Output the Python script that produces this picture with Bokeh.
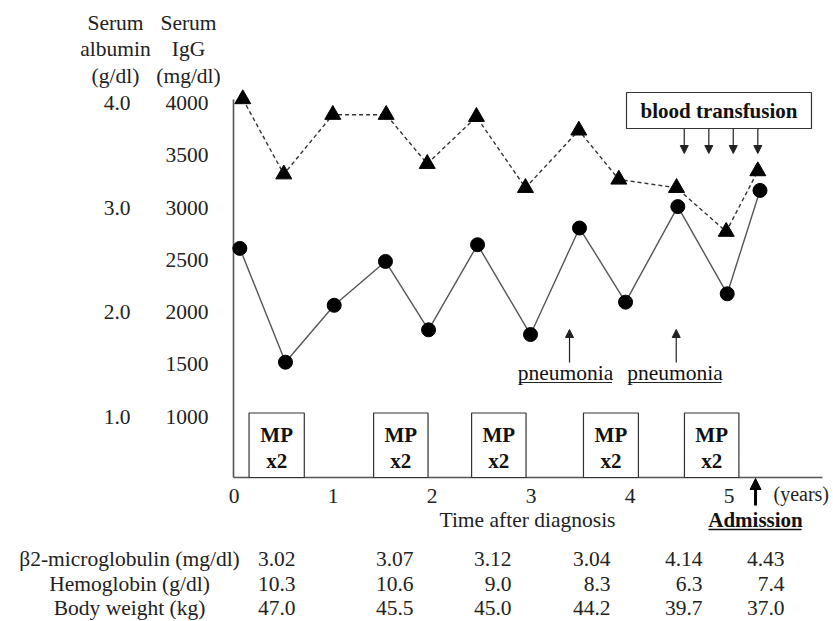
from bokeh.plotting import figure
from bokeh.models import Range1d, Arrow, NormalHead, ColumnDataSource
from bokeh.core.properties import value
from bokeh.embed import file_html
from bokeh.resources import INLINE

FONT = "Liberation Serif"
FS = "21.5px"
FSB = "21px"
TXT = "#222222"

# ---------------- data ----------------
t_igg = [0.059, 0.52, 1.012, 1.53, 1.965, 2.46, 2.995, 3.49, 3.955, 4.483, 4.982, 5.313]
igg = [2610, 1520, 2065, 2485, 1830, 2645, 1785, 2805, 2095, 3010, 2175, 3165]

t_alb = [0.089, 0.503, 0.998, 1.537, 1.952, 2.449, 2.944, 3.483, 3.887, 4.47, 4.972, 5.291]
alb = [4.04, 3.32, 3.89, 3.89, 3.42, 3.87, 3.19, 3.74, 3.27, 3.19, 2.77, 3.35]

x_ticks = [0, 1, 2, 3, 4, 5]
igg_ticks = [1000, 1500, 2000, 2500, 3000, 3500, 4000]
alb_ticks = [1.0, 2.0, 3.0, 4.0]

mp_start = [0.152, 1.41, 2.40, 3.53, 4.55]
mp_end = [0.71, 1.96, 2.95, 4.085, 5.10]
mp_label_top = "MP"
mp_label_bottom = "x2"

transfusion_t = [4.548, 4.796, 5.043, 5.291]
pneumonia_t = [3.389, 4.467]
admission_t = 5.268

table_rows = ["\u03b22-microglobulin (mg/dl)", "Hemoglobin (g/dl)", "Body weight (kg)"]
b2m = ["3.02", "3.07", "3.12", "3.04", "4.14", "4.43"]
hb = ["10.3", "10.6", "9.0", "8.3", "6.3", "7.4"]
bw = ["47.0", "45.5", "45.0", "44.2", "39.7", "37.0"]

# ---------------- geometry helpers (page px -> data) ----------------
X0PX, XPX = 233.5, 99.0
Y0PX, Y0V, YV = 477.0, 416.0, 9.576
def dx(px):
    return (px - X0PX) / XPX
def dy(py):
    return Y0V + (Y0PX - py) * YV

W, H = 833, 621
p = figure(width=W, height=H, output_backend="svg", toolbar_location=None,
           x_range=Range1d(dx(0), dx(W)), y_range=Range1d(dy(H), dy(0)),
           x_axis_location=None, y_axis_location=None, min_border=0,
           background_fill_color="white", border_fill_color="white")
p.outline_line_color = None
p.grid.visible = False
p.extra_y_ranges = {"alb": Range1d(dy(H) / 1000.0, dy(0) / 1000.0)}

AX_COLOR = "#555555"
# axis lines
x_axis_end = dx(822)
y_axis_top = dy(99)
p.segment(x0=[dx(233), dx(233)], y0=[Y0V, Y0V], x1=[x_axis_end, dx(233)], y1=[Y0V, y_axis_top],
          line_color=AX_COLOR, line_width=1.6)

# tick labels
p.text(x=x_ticks, y=[dy(495)] * len(x_ticks), text=[str(t) for t in x_ticks],
       text_font=value(FONT), text_font_size=value(FS), text_align="center",
       text_baseline="middle", text_color=TXT)
p.text(x=[dx(208)] * len(igg_ticks), y=igg_ticks, text=[str(t) for t in igg_ticks],
       text_font=value(FONT), text_font_size=value(FS), text_align="right",
       text_baseline="middle", text_color=TXT)
p.text(x=[dx(130)] * len(alb_ticks), y=alb_ticks, y_range_name="alb",
       text=["%.1f" % t for t in alb_ticks],
       text_font=value(FONT), text_font_size=value(FS), text_align="right",
       text_baseline="middle", text_color=TXT)

# ---------------- MP boxes ----------------
mp_mid = [(a + b) / 2 for a, b in zip(mp_start, mp_end)]
p.quad(left=mp_start, right=mp_end, bottom=Y0V, top=dy(412.5),
       fill_color="white", line_color="#333333", line_width=1.2)
p.text(x=mp_mid, y=[dy(434)] * len(mp_mid), text=[mp_label_top] * len(mp_mid),
       text_font=value(FONT), text_font_size=value(FSB), text_font_style="bold",
       text_align="center", text_baseline="middle", text_color="#111111")
p.text(x=mp_mid, y=[dy(460)] * len(mp_mid), text=[mp_label_bottom] * len(mp_mid),
       text_font=value(FONT), text_font_size=value(FSB), text_font_style="bold",
       text_align="center", text_baseline="middle", text_color="#111111")

# ---------------- series ----------------
p.line(t_alb, alb, y_range_name="alb", line_color="#333333", line_width=1.4, line_dash="4 3")
p.scatter(t_alb, alb, y_range_name="alb", marker="triangle", size=16,
          fill_color="black", line_color="black")
p.line(t_igg, igg, line_color="#555555", line_width=1.4)
p.scatter(t_igg, igg, marker="circle", size=14, fill_color="black", line_color="black")

# ---------------- blood transfusion ----------------
bt_l, bt_r = dx(626), dx(811)
p.quad(left=[bt_l], right=[bt_r], bottom=[dy(128)], top=[dy(92)],
       fill_color="white", line_color="#333333", line_width=1.2)
p.text(x=[(bt_l + bt_r) / 2], y=[dy(110)], text=["blood transfusion"],
       text_font=value(FONT), text_font_size=value(FSB), text_font_style="bold",
       text_align="center", text_baseline="middle", text_color="#111111")
tsrc = ColumnDataSource(dict(x=transfusion_t, y0=[dy(128)] * 4, y1=[dy(153)] * 4))
p.add_layout(Arrow(end=NormalHead(size=8, fill_color="#222222", line_color="#222222"),
                   x_start="x", y_start="y0", x_end="x", y_end="y1", source=tsrc,
                   line_color="#222222", line_width=1.2))

# ---------------- pneumonia ----------------
psrc = ColumnDataSource(dict(x=pneumonia_t, y0=[dy(362)] * 2, y1=[dy(329)] * 2))
p.add_layout(Arrow(end=NormalHead(size=8, fill_color="#222222", line_color="#222222"),
                   x_start="x", y_start="y0", x_end="x", y_end="y1", source=psrc,
                   line_color="#222222", line_width=1.2))
pn_x = [dx(565), dx(674.5)]
p.text(x=pn_x, y=[dy(372)] * 2, text=["pneumonia"] * 2,
       text_font=value(FONT), text_font_size=value(FS),
       text_align="center", text_baseline="middle", text_color="#111111")
half = 46.5 / XPX
p.segment(x0=[x - half for x in pn_x], x1=[x + half for x in pn_x],
          y0=[dy(382)] * 2, y1=[dy(382)] * 2, line_color="#222222", line_width=1.1)

# ---------------- admission ----------------
p.add_layout(Arrow(end=NormalHead(size=11, fill_color="black", line_color="black"),
                   x_start=admission_t, y_start=dy(505), x_end=admission_t, y_end=dy(478),
                   line_color="black", line_width=3))
p.text(x=[admission_t], y=[dy(519)], text=["Admission"], text_font=value(FONT),
       text_font_size=value(FSB), text_font_style="bold", text_align="center",
       text_baseline="middle", text_color="#111111")
p.segment(x0=[dx(708)], y0=[dy(529)], x1=[dx(801)], y1=[dy(529)],
          line_color="#111111", line_width=1.3)
p.text(x=[dx(773)], y=[dy(493)], text=["(years)"], text_font=value(FONT),
       text_font_size=value("20px"), text_align="left", text_baseline="middle", text_color=TXT)
p.text(x=[dx(527)], y=[dy(519)], text=["Time after diagnosis"], text_font=value(FONT),
       text_font_size=value(FS), text_align="center", text_baseline="middle", text_color=TXT)

# ---------------- headers ----------------
for cx, lines in ((115, ["Serum", "albumin", "(g/dl)"]), (188, ["Serum", "IgG", "(mg/dl)"])):
    p.text(x=[dx(cx)] * 3, y=[dy(22), dy(48), dy(75)], text=lines, text_font=value(FONT),
           text_font_size=value(FS), text_align="center", text_baseline="middle", text_color=TXT)

# ---------------- table ----------------
col_right_px = [295, 413, 511, 610, 702, 784]
row_y_px = [558, 583, 607]
col_x = [dx(c) for c in col_right_px]
p.text(x=[dx(129)] * 3, y=[dy(r) for r in row_y_px], text=table_rows, text_font=value(FONT),
       text_font_size=value(FS), text_align="center", text_baseline="middle", text_color=TXT)
for ry, vals in zip(row_y_px, (b2m, hb, bw)):
    p.text(x=col_x, y=[dy(ry)] * len(col_x), text=vals, text_font=value(FONT),
           text_font_size=value(FS), text_align="right", text_baseline="middle", text_color=TXT)

open("out.html", "w").write(file_html(p, INLINE))
